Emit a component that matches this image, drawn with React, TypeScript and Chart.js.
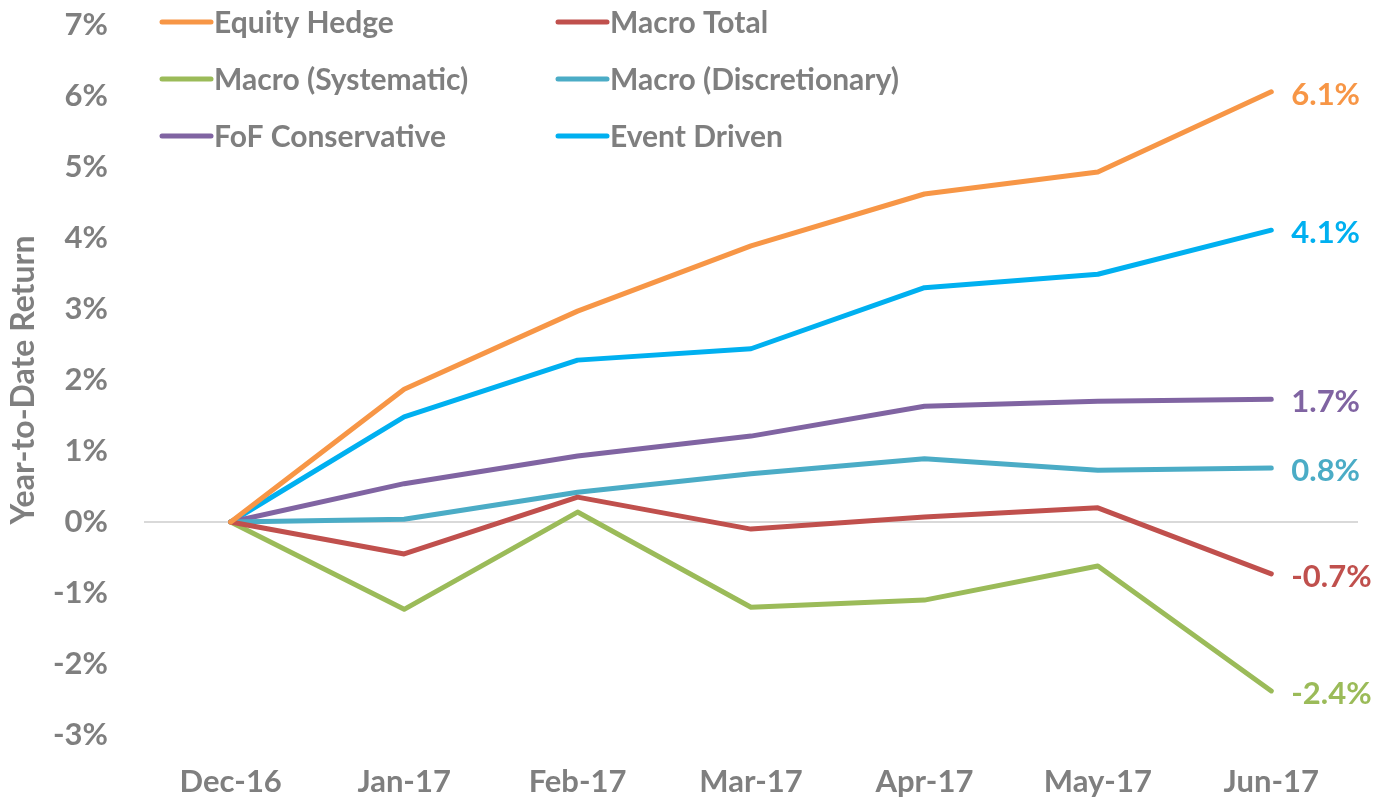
import React, { useEffect, useRef } from "react";
import { Chart, registerables } from "chart.js";

Chart.register(...registerables);

const months = ["Dec-16", "Jan-17", "Feb-17", "Mar-17", "Apr-17", "May-17", "Jun-17"];

const equityHedge = [0, 1.87, 2.97, 3.89, 4.62, 4.93, 6.06];
const macroTotal = [0, -0.45, 0.35, -0.1, 0.07, 0.2, -0.73];
const macroSystematic = [0, -1.23, 0.14, -1.2, -1.1, -0.62, -2.38];
const macroDiscretionary = [0, 0.04, 0.42, 0.68, 0.89, 0.73, 0.76];
const fofConservative = [0, 0.54, 0.93, 1.21, 1.63, 1.7, 1.73];
const eventDriven = [0, 1.48, 2.28, 2.44, 3.3, 3.49, 4.11];

const seriesNames = [
  "Equity Hedge",
  "Macro Total",
  "Macro (Systematic)",
  "Macro (Discretionary)",
  "FoF Conservative",
  "Event Driven",
];
const seriesValues = [equityHedge, macroTotal, macroSystematic, macroDiscretionary, fofConservative, eventDriven];
const seriesColors = ["#F79646", "#C0504D", "#9BBB59", "#4BACC6", "#8064A2", "#00B0F0"];

const yMin = -3;
const yMax = 7;
const yStep = 1;

const FONT = "Lato, 'Open Sans', sans-serif";
const TEXT_GRAY = "#7F7F7F";

const legendPlugin = {
  id: "customLegend",
  afterDraw(chart: any) {
    const ctx = chart.ctx;
    ctx.save();
    ctx.font = `bold 30px ${FONT}`;
    ctx.textBaseline = "middle";
    ctx.textAlign = "left";
    const cols = [162, 558];
    const rows = [22, 79, 136];
    seriesNames.forEach((name, i) => {
      const x = cols[i % 2];
      const y = rows[Math.floor(i / 2)];
      ctx.strokeStyle = seriesColors[i];
      ctx.lineWidth = 5;
      ctx.lineCap = "round";
      ctx.beginPath();
      ctx.moveTo(x, y);
      ctx.lineTo(x + 49, y);
      ctx.stroke();
      ctx.fillStyle = TEXT_GRAY;
      ctx.fillText(name, x + 52, y + 1);
    });
    ctx.restore();
  },
};

const endLabelPlugin = {
  id: "endLabels",
  afterDatasetsDraw(chart: any) {
    const ctx = chart.ctx;
    ctx.save();
    ctx.font = `bold 31px ${FONT}`;
    ctx.textBaseline = "middle";
    ctx.textAlign = "left";
    chart.data.datasets.forEach((ds: any, i: number) => {
      const meta = chart.getDatasetMeta(i);
      const pt = meta.data[meta.data.length - 1];
      const v = ds.data[ds.data.length - 1];
      ctx.fillStyle = seriesColors[i];
      ctx.fillText(`${v.toFixed(1)}%`, pt.x + 20, pt.y + 3);
    });
    ctx.restore();
  },
};

export default function App() {
  const ref = useRef<HTMLCanvasElement>(null);
  useEffect(() => {
    document.body.style.margin = "0";
    if (!ref.current) return;
    const chart = new Chart(ref.current, {
      type: "line",
      data: {
        labels: months,
        datasets: seriesNames.map((name, i) => ({
          label: name,
          data: seriesValues[i],
          borderColor: seriesColors[i],
          backgroundColor: seriesColors[i],
          borderWidth: 5,
          pointRadius: 0,
          borderCapStyle: "round" as const,
          borderJoinStyle: "round" as const,
          tension: 0,
          clip: false as any,
        })),
      },
      options: {
        responsive: false,
        animation: false,
        layout: { padding: { top: 25, right: 23, left: 0, bottom: 0 } },
        plugins: {
          legend: { display: false },
          tooltip: { enabled: false },
        },
        scales: {
          x: {
            offset: true,
            grid: { display: false, drawTicks: false },
            border: { display: false },
            ticks: {
              color: TEXT_GRAY,
              font: { family: FONT, size: 31, weight: "bold" },
              padding: 28,
              maxRotation: 0,
            },
            afterFit(scale: any) {
              scale.height = 66;
              scale.paddingLeft = 0;
              scale.paddingRight = 0;
            },
          },
          y: {
            min: yMin,
            max: yMax,
            grid: {
              drawTicks: false,
              color: (c: any) => (c.tick && c.tick.value === 0 ? "#D9D9D9" : "rgba(0,0,0,0)"),
              lineWidth: 2,
            },
            border: { display: false },
            ticks: {
              stepSize: yStep,
              color: TEXT_GRAY,
              font: { family: FONT, size: 31, weight: "bold" },
              padding: 36,
              callback: (v: any) => `${v}%`,
            },
            title: {
              display: true,
              text: "Year-to-Date Return",
              color: TEXT_GRAY,
              font: { family: FONT, size: 32, weight: "bold" },
              padding: { top: 4, bottom: 0 },
            },
            afterFit(scale: any) {
              scale.width = 144;
              scale.paddingTop = 0;
              scale.paddingBottom = 0;
            },
          },
        },
      },
      plugins: [legendPlugin, endLabelPlugin],
    });
    return () => chart.destroy();
  }, []);
  return <canvas ref={ref} width={1381} height={801} style={{ display: "block" }} />;
}
